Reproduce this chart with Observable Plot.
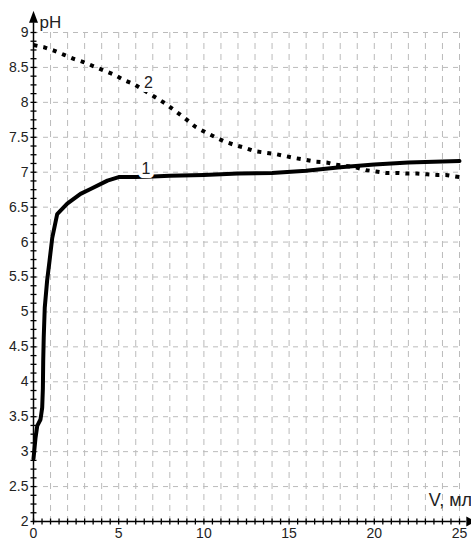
<!DOCTYPE html>
<html>
<head>
<meta charset="utf-8">
<script src="https://cdn.jsdelivr.net/npm/d3@7"></script>
<script src="https://cdn.jsdelivr.net/npm/@observablehq/plot@0.6"></script>
<style>
  html, body { margin: 0; padding: 0; background: #fff; }
  #chart svg { display: block; }
</style>
</head>
<body>
<div id="chart"></div>
<script>
// Curve 1 (solid)
const v1  = [0, 0.12, 0.22, 0.41, 0.51, 0.55, 0.57, 0.6, 0.66, 0.8, 0.94, 1.1, 1.39, 1.98, 2.76, 3.35, 4.34, 5, 6, 7, 8, 10, 12, 14, 16, 18, 20, 22, 25];
const ph1 = [2.9, 3.2, 3.37, 3.46, 3.63, 3.9, 4.3, 4.63, 5.06, 5.45, 5.73, 6.06, 6.4, 6.55, 6.69, 6.76, 6.88, 6.93, 6.93, 6.94, 6.95, 6.96, 6.98, 6.99, 7.02, 7.07, 7.11, 7.14, 7.16];
// Curve 2 (dotted)
const v2  = [0, 0.6, 1.2, 1.8, 2.4, 2.9, 3.5, 4.1, 4.7, 5.3, 5.9, 7.1, 7.7, 8.3, 8.9, 9.5, 10.1, 10.6, 11.2, 11.8, 12.4, 13, 13.6, 14.2, 14.8, 15.4, 15.9, 16.6, 17.2, 17.7, 18.3, 18.9, 19.5, 20.1, 20.7, 21.3, 21.9, 22.5, 23.1, 23.7, 24.2, 25];
const ph2 = [8.82, 8.79, 8.74, 8.68, 8.62, 8.58, 8.52, 8.46, 8.4, 8.32, 8.26, 8.08, 7.99, 7.88, 7.77, 7.65, 7.57, 7.51, 7.44, 7.39, 7.35, 7.3, 7.28, 7.26, 7.23, 7.2, 7.18, 7.15, 7.14, 7.11, 7.09, 7.07, 7.03, 7.01, 6.99, 6.99, 6.98, 6.98, 6.97, 6.96, 6.96, 6.93];
// Curve labels
const curveNames = ["1", "2"];
const labelV  = [6.6, 6.75];
const labelPH = [7.05, 8.28];
// Tick labels
const xTickLabels = [0, 5, 10, 15, 20, 25];
const yTickLabels = [2, 2.5, 3, 3.5, 4, 4.5, 5, 5.5, 6, 6.5, 7, 7.5, 8, 8.5, 9];
const xGrid = d3.range(1, 26, 1);
const yGrid = d3.range(2.5, 9.01, 0.5);
const xMinor = d3.range(0, 25.01, 0.5);
const yMinor = d3.range(2, 9.01, 0.125);
const xTitle = "V, мл";
const yTitle = "pH";

const curve1 = v1.map((v, i) => ({v, ph: ph1[i]}));
const curve2 = v2.map((v, i) => ({v, ph: ph2[i]}));
const labels = curveNames.map((t, i) => ({t, v: labelV[i], ph: labelPH[i]}));

const hTick = {draw(ctx) { ctx.moveTo(-3, 0); ctx.lineTo(3, 0); }};
const vTick = {draw(ctx) { ctx.moveTo(0, -3); ctx.lineTo(0, 3); }};
const upArrow = {draw(ctx) { ctx.moveTo(0, -12); ctx.lineTo(4.5, 0); ctx.lineTo(-4.5, 0); ctx.closePath(); }};
const rightArrow = {draw(ctx) { ctx.moveTo(9, 0); ctx.lineTo(0, -5); ctx.lineTo(0, 5); ctx.closePath(); }};

const font = "'Liberation Sans Narrow', 'Liberation Sans', Arial, sans-serif";

const chart = Plot.plot({
  width: 471,
  height: 540,
  marginLeft: 33,
  marginRight: 12,
  marginTop: 32,
  marginBottom: 19,
  style: {fontFamily: font, background: "#fff"},
  x: {domain: [0, 25], axis: null},
  y: {domain: [2, 9], axis: null},
  marks: [
    Plot.ruleX(xGrid, {stroke: "#bbb", strokeWidth: 1, strokeDasharray: "6,5"}),
    Plot.ruleY(yGrid, {x1: 0, x2: 25, stroke: "#bbb", strokeWidth: 1, strokeDasharray: "5,5"}),
    // axes
    Plot.ruleX([0], {y1: 2, y2: 9.14, stroke: "#000", strokeWidth: 1.5}),
    Plot.ruleY([2], {x1: 0, x2: 25.4, stroke: "#000", strokeWidth: 1.5}),
    Plot.dot([0], {x: 0, y: 9.14, symbol: upArrow, fill: "#000", stroke: "none"}),
    Plot.dot([0], {x: 25.4, y: 2, symbol: rightArrow, fill: "#000", stroke: "none"}),
    Plot.dot(yMinor, {x: 0, y: d => d, symbol: hTick, stroke: "#000", strokeWidth: 1.3, fill: "none"}),
    Plot.dot(xMinor, {x: d => d, y: 2, symbol: vTick, stroke: "#000", strokeWidth: 1.3, fill: "none"}),
    Plot.text(yTickLabels, {x: 0, y: d => d, text: d => String(d), dx: -5, textAnchor: "end", fontSize: 14, fill: "#222"}),
    Plot.text(xTickLabels, {x: d => d, y: 2, text: d => String(d), dy: 12, fontSize: 14, fill: "#222"}),
    Plot.text([yTitle], {x: 0, y: 9, text: d => d, dx: 6, dy: -10, textAnchor: "start", fontSize: 17, fill: "#222"}),
    Plot.text([xTitle], {x: 23.2, y: 2.3, text: d => d, textAnchor: "start", fontSize: 18, fill: "#222"}),
    // curves
    Plot.line(curve2, {x: "v", y: "ph", stroke: "#000", strokeWidth: 4, strokeDasharray: "4,6", strokeLinecap: "butt"}),
    Plot.line(curve1, {x: "v", y: "ph", stroke: "#000", strokeWidth: 4, strokeLinejoin: "round"}),
    Plot.text(labels, {x: "v", y: "ph", text: "t", fontSize: 16, fill: "#222", stroke: "#fff", strokeWidth: 8})
  ]
});
document.getElementById("chart").appendChild(chart);
</script>
</body>
</html>
